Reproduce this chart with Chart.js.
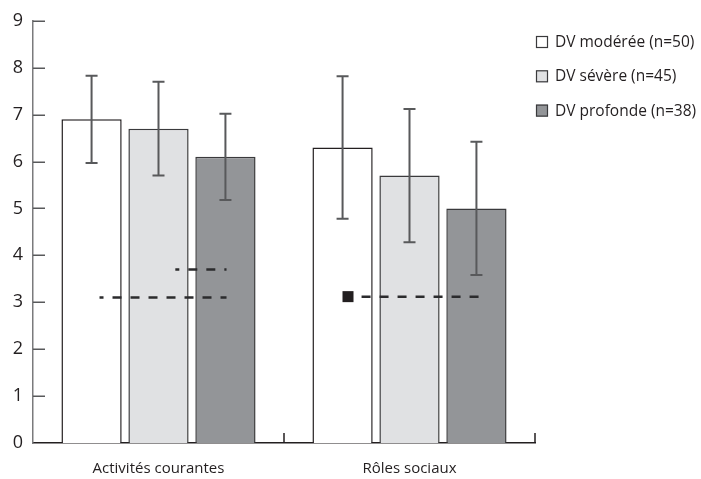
<!DOCTYPE html>
<html lang="fr">
<head>
<meta charset="utf-8">
<title>Scores par domaine selon la déficience visuelle</title>
<script src="https://cdn.jsdelivr.net/npm/chart.js@4/dist/chart.umd.min.js"></script>
<style>
  html, body { margin: 0; padding: 0; background: #ffffff; }
  #wrap { width: 701px; height: 479px; }
</style>
</head>
<body>
<div id="wrap"><canvas id="c" width="701" height="479"></canvas></div>
<script>
// Domains on the horizontal axis
const categories = ['Activités courantes', 'Rôles sociaux'];

// Group labels
const seriesLabels = ['DV modérée (n=50)', 'DV sévère (n=45)', 'DV profonde (n=38)'];

// Mean scores per group
const moderee  = [6.9, 6.3];
const severe   = [6.7, 5.7];
const profonde = [6.1, 5.0];

// Standard deviations per group
const sdModeree  = [0.93, 1.52];
const sdSevere   = [1.0, 1.42];
const sdProfonde = [0.92, 1.42];

// Reference levels (dashed segments), in score units
const refLevels = [3.1, 3.7, 3.12];
// Extent of each reference segment, in category units (0 = first domain, 1 = second)
const refFrom = [-0.235, 0.067, 0.809];
const refTo   = [0.271, 0.271, 1.282];
// Single reference marker
const refMarkerX = [0.755];
const refMarkerY = [3.12];

// Y tick values
const yTicks = [0, 1, 2, 3, 4, 5, 6, 7, 8, 9];

const FONT = '"Open Sans", "Noto Sans", sans-serif';
const INK = '#231f20';

const fills = ['#ffffff', '#e0e1e3', '#939598'];
const edges = ['#231f20', '#3a3a3c', '#3a3a3c'];
const means = [moderee, severe, profonde];
const sds = [sdModeree, sdSevere, sdProfonde];

const barSets = seriesLabels.map((label, i) => ({
  label: label,
  data: means[i],
  sd: sds[i],
  backgroundColor: fills[i],
  borderColor: edges[i],
  borderWidth: 1.5,
  borderSkipped: 'start',
  categoryPercentage: 0.8,
  barPercentage: 0.9
}));

// Whiskers (mean ± SD) on each bar, then the dashed reference segments and marker
const overlays = {
  id: 'overlays',
  afterDatasetsDraw(chart) {
    const ctx = chart.ctx;
    const { x, y } = chart.scales;
    ctx.save();
    ctx.strokeStyle = '#58595b';
    ctx.lineWidth = 2;
    chart.data.datasets.forEach((ds, di) => {
      const meta = chart.getDatasetMeta(di);
      meta.data.forEach((bar, j) => {
        const m = ds.data[j], s = ds.sd[j];
        const px = bar.x;
        const yt = y.getPixelForValue(m + s);
        const yb = y.getPixelForValue(m - s);
        const cap = 6;
        ctx.beginPath();
        ctx.moveTo(px, yt); ctx.lineTo(px, yb);
        ctx.moveTo(px - cap, yt); ctx.lineTo(px + cap, yt);
        ctx.moveTo(px - cap, yb); ctx.lineTo(px + cap, yb);
        ctx.stroke();
      });
    });

    ctx.strokeStyle = '#2b2b2d';
    ctx.lineWidth = 2.5;
    ctx.setLineDash([9, 9]);
    refLevels.forEach((lvl, i) => {
      const py = y.getPixelForValue(lvl);
      ctx.lineDashOffset = refFrom[i] < 0.5 ? 5 : 0;
      ctx.beginPath();
      ctx.moveTo(x.getPixelForValue(refFrom[i]), py);
      ctx.lineTo(x.getPixelForValue(refTo[i]), py);
      ctx.stroke();
    });
    ctx.setLineDash([]);

    ctx.fillStyle = INK;
    refMarkerX.forEach((mx, i) => {
      const px = x.getPixelForValue(mx);
      const py = y.getPixelForValue(refMarkerY[i]);
      ctx.fillRect(px - 5.5, py - 5.5, 11, 11);
    });
    ctx.restore();
  }
};

// Inward tick marks on both axes
const tickMarks = {
  id: 'tickMarks',
  afterDraw(chart) {
    const ctx = chart.ctx;
    const { x, y } = chart.scales;
    const area = chart.chartArea;
    ctx.save();
    ctx.lineWidth = 1.5;
    ctx.strokeStyle = '#58595b';
    yTicks.forEach(v => {
      if (v === 0) return;
      const py = Math.round(y.getPixelForValue(v)) + 0.25;
      ctx.beginPath();
      ctx.moveTo(area.left, py);
      ctx.lineTo(area.left + 12, py);
      ctx.stroke();
    });
    ctx.strokeStyle = INK;
    const half = (x.getPixelForValue(1) - x.getPixelForValue(0)) / 2;
    categories.forEach((c, i) => {
      const px = x.getPixelForValue(i) + half;
      ctx.beginPath();
      ctx.moveTo(px, area.bottom);
      ctx.lineTo(px, area.bottom - 10);
      ctx.stroke();
    });
    ctx.restore();
  }
};

// Legend to the right of the plot
const sideLegend = {
  id: 'sideLegend',
  afterDraw(chart) {
    const ctx = chart.ctx;
    const left = chart.chartArea.right + 1;
    const top = 42;
    const step = 34.3;
    ctx.save();
    ctx.font = '15.5px ' + FONT;
    ctx.textBaseline = 'middle';
    ctx.textAlign = 'left';
    chart.data.datasets.forEach((ds, i) => {
      const cy = top + i * step;
      ctx.fillStyle = ds.backgroundColor;
      ctx.fillRect(left, cy - 6, 12, 12);
      ctx.strokeStyle = '#3a3a3c';
      ctx.lineWidth = 1.2;
      ctx.strokeRect(left + 0.5, cy - 5.5, 11, 11);
      ctx.fillStyle = INK;
      ctx.fillText(ds.label, left + 19, cy + 0.5);
    });
    ctx.restore();
  }
};

new Chart(document.getElementById('c'), {
  type: 'bar',
  data: {
    labels: categories,
    datasets: barSets
  },
  options: {
    responsive: false,
    animation: false,
    events: [],
    layout: { padding: { top: 15, right: 166, bottom: 0, left: 0 } },
    plugins: {
      legend: { display: false },
      tooltip: { enabled: false }
    },
    scales: {
      x: {
        type: 'category',
        offset: true,
        grid: { display: false, drawTicks: false },
        border: { display: true, color: INK, width: 1.5 },
        ticks: { color: INK, font: { family: FONT, size: 15 }, padding: 17, maxRotation: 0 },
        afterFit(scale) { scale.height = 36; }
      },
      y: {
        type: 'linear',
        min: 0,
        max: 9,
        grid: { display: false, drawTicks: false },
        border: { display: true, color: '#7a7a7c', width: 1.5 },
        ticks: { stepSize: 1, color: INK, font: { family: FONT, size: 18 }, padding: 10 },
        afterFit(scale) { scale.width = 33; }
      }
    }
  },
  plugins: [overlays, tickMarks, sideLegend]
});
</script>
</body>
</html>
